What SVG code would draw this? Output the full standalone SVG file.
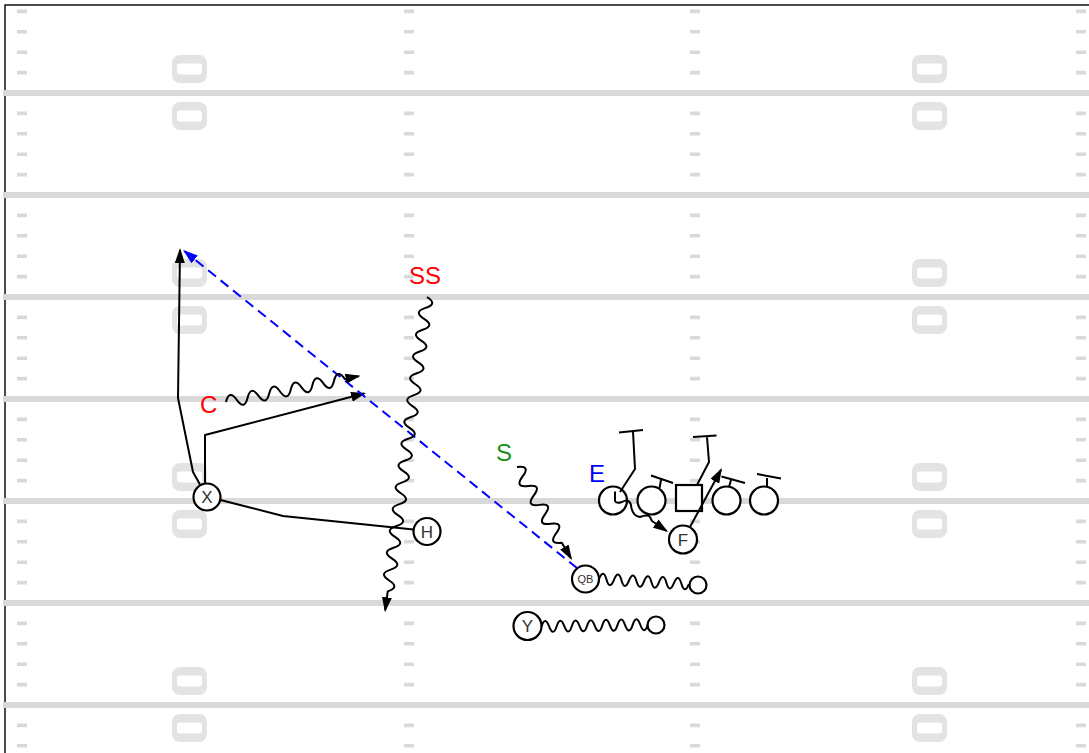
<svg xmlns="http://www.w3.org/2000/svg" width="1089" height="753" viewBox="0 0 1089 753">
  <style>
    .yard{stroke:#d9d9d9;stroke-width:6}
    .hash{stroke:#d9d9d9;stroke-width:10;stroke-dasharray:3.6 16.8}
    .pl{fill:#fff;stroke:#000;stroke-width:2.2}
    .pt{font-family:"Liberation Sans",Arial,sans-serif;font-size:17px;fill:#333;text-anchor:middle}
    .lbl{font-family:"Liberation Sans",Arial,sans-serif;font-size:24px}
    .rt{fill:none;stroke:#000;stroke-width:2;stroke-linejoin:round}
    .arr{marker-end:url(#ah)}
    .pass{fill:none;stroke:#00f;stroke-width:2;stroke-dasharray:10 6;marker-end:url(#ahb)}
  </style>
  <defs>
    <marker id="ah" viewBox="0 0 15 10" refX="13" refY="5" markerWidth="15" markerHeight="10" markerUnits="userSpaceOnUse" orient="auto">
      <path d="M0,0 L15,5 L0,10 z" fill="#000"/>
    </marker>
    <marker id="ahb" viewBox="0 0 15 10" refX="13" refY="5" markerWidth="15" markerHeight="10" markerUnits="userSpaceOnUse" orient="auto">
      <path d="M0,0 L15,5 L0,10 z" fill="#00f"/>
    </marker>
    <!-- field number marker -->
    <g id="num">
      <rect width="35" height="28" rx="8" fill="#e3e3e3"/>
      <rect x="5" y="8.5" width="25" height="11" rx="3" fill="#fff"/>
    </g>
  </defs>

  <!-- field -->
  <g id="field">
    <rect width="1089" height="753" fill="#fff"/>
    <rect x="5" y="5" width="1120" height="780" fill="none" stroke="#111" stroke-width="1.5"/>
    <line class="yard" x1="3" y1="93" x2="1089" y2="93"/>
    <line class="yard" x1="3" y1="195" x2="1089" y2="195"/>
    <line class="yard" x1="3" y1="297" x2="1089" y2="297"/>
    <line class="yard" x1="3" y1="399" x2="1089" y2="399"/>
    <line class="yard" x1="3" y1="501" x2="1089" y2="501"/>
    <line class="yard" x1="3" y1="603" x2="1089" y2="603"/>
    <line class="yard" x1="3" y1="705" x2="1089" y2="705"/>
    <line class="hash" x1="22" y1="9.6" x2="22" y2="753"/>
    <line class="hash" x1="409" y1="9.6" x2="409" y2="753"/>
    <line class="hash" x1="695" y1="9.6" x2="695" y2="753"/>
    <line class="hash" x1="1081" y1="9.6" x2="1081" y2="753"/>
    <use href="#num" x="172" y="55"/><use href="#num" x="172" y="102"/>
    <use href="#num" x="172" y="259"/><use href="#num" x="172" y="306"/>
    <use href="#num" x="172" y="463"/><use href="#num" x="172" y="510"/>
    <use href="#num" x="172" y="667"/><use href="#num" x="172" y="714"/>
    <use href="#num" x="912" y="55"/><use href="#num" x="912" y="102"/>
    <use href="#num" x="912" y="259"/><use href="#num" x="912" y="306"/>
    <use href="#num" x="912" y="463"/><use href="#num" x="912" y="510"/>
    <use href="#num" x="912" y="667"/><use href="#num" x="912" y="714"/>
  </g>

  <!-- players -->
  <g id="player-x"><circle class="pl" cx="207" cy="497" r="13.5"/><text class="pt" x="207" y="503">X</text></g>
  <g id="player-h"><circle class="pl" cx="427" cy="531.5" r="13.5"/><text class="pt" x="427" y="537.5">H</text></g>
  <g id="player-qb"><circle class="pl" cx="585.5" cy="579" r="13.5"/><text class="pt" x="585.5" y="583" style="font-size:11px">QB</text></g>
  <g id="player-y"><circle class="pl" cx="527.5" cy="626" r="14"/><text class="pt" x="527.5" y="632">Y</text></g>
  <g id="player-f"><circle class="pl" cx="683" cy="539.5" r="14"/><text class="pt" x="683" y="545.5">F</text></g>
  <g id="qb-spot"><circle class="pl" cx="698" cy="585" r="8.5"/></g>
  <g id="y-spot"><circle class="pl" cx="656" cy="625" r="8.5"/></g>
  <g id="line-1"><circle class="pl" cx="613" cy="500.5" r="14"/></g>
  <g id="line-2"><circle class="pl" cx="651.5" cy="500.5" r="14"/></g>
  <g id="center"><rect class="pl" x="676" y="485" width="26" height="26"/></g>
  <g id="line-4"><circle class="pl" cx="726.5" cy="500.5" r="14"/></g>
  <g id="line-5"><circle class="pl" cx="764" cy="500.5" r="14"/></g>

  <!-- defender labels -->
  <g id="label-ss"><text class="lbl" x="409" y="284" fill="#f00">SS</text></g>
  <g id="label-c"><text class="lbl" x="200" y="412.5" fill="#f00">C</text></g>
  <g id="label-s"><text class="lbl" x="496" y="460.5" fill="#1a8f1a">S</text></g>
  <g id="label-e"><text class="lbl" x="589" y="482" fill="#00f">E</text></g>

  <!-- routes, blocks and the pass -->
  <g id="connectors">
    <path class="rt arr" d="M200.5,485.5 L193,472 L178,398 L180,250"/>
    <path class="rt arr" d="M205,483.5 L205,435 L364.1,393.5"/>
    <path class="rt" d="M220.5,500 L283,516 L413.5,529.5"/>
    <path class="pass" d="M577,568 L184.6,251.3"/>

    <!-- SS drop -->
    <path class="rt arr" transform="translate(427 297) rotate(97.6)" d="M0,0 q5.5,-12 11,0 t11,0 t11,0 t11,0 t11,0 t11,0 t11,0 t11,0 t11,0 t11,0 t11,0 t11,0 t11,0 t11,0 t11,0 t11,0 t11,0 t11,0 t11,0 t11,0 t11,0 t11,0 t11,0 t11,0 t11,0 t11,0 t11,0 l19,0"/>
    <!-- C drop -->
    <path class="rt arr" transform="translate(226 402) rotate(-11)" d="M0,0 q5.5,-12 11,0 t11,0 t11,0 t11,0 t11,0 t11,0 t11,0 t11,0 t11,0 t11,0 t11,0 l14,0"/>
    <!-- S rush -->
    <path class="rt arr" transform="translate(517 467) rotate(59.4)" d="M0,0 q5.5,-13 11,0 t11,0 t11,0 t11,0 t11,0 t11,0 t11,0 t11,0 l18,0"/>
    <!-- QB and Y motion -->
    <path class="rt" transform="translate(599 579) rotate(3.2)" d="M0,0 q3.75,-11 7.5,0 t7.5,0 t7.5,0 t7.5,0 t7.5,0 t7.5,0 t7.5,0 t7.5,0 t7.5,0 t7.5,0 t7.5,0 t7.5,0"/>
    <path class="rt" transform="translate(541.5 626.5) rotate(-1)" d="M0,0 q3.8,-11 7.6,0 t7.6,0 t7.6,0 t7.6,0 t7.6,0 t7.6,0 t7.6,0 t7.6,0 t7.6,0 t7.6,0 t7.6,0 t7.6,0 t7.6,0 t7.6,0"/>

    <!-- line blocks -->
    <path class="rt" d="M620,492 L635,469 L633,431.5 M619,432.5 L643,430"/>
    <path class="rt" d="M659.5,488 L661,480 M651,475.5 L673,483"/>
    <path class="rt" d="M697,485 L709,462 L707,437 M693,437 L716.5,435.5"/>
    <path class="rt" d="M729,487 L731,480 M721.5,476.5 L745,483"/>
    <path class="rt" d="M767,487 L767,478 M757,474 L781,478.5"/>

    <!-- F path and the squiggle into F -->
    <path class="rt arr" d="M690,527 L721,469.8"/>
    <path class="rt arr" d="M615,491.5 V501 Q616,504 622,502 Q629,498 631,505 Q632,516 640,517 Q648,514 650,517 L652,521 L666.4,530.9"/>
  </g>
</svg>
